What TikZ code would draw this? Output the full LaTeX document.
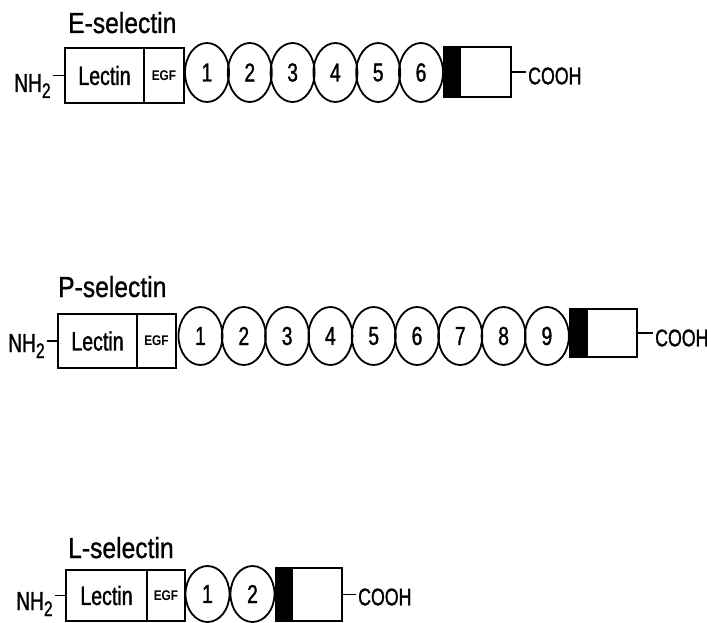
\documentclass[tikz,border=0pt]{standalone}
\usepackage{fontspec}
\setmainfont{Liberation Sans}
\newfontfamily\condfont[FakeStretch=0.74,FakeBold=1.2]{Liberation Sans}
\newfontfamily\titlefont[FakeStretch=0.85,FakeBold=1.0]{Liberation Sans}
\newfontfamily\egffont[FakeStretch=0.85]{Liberation Sans Bold}
\newcommand{\nhtwo}{NH\raisebox{-6pt}{\fontsize{21}{21}\selectfont 2}}
\usetikzlibrary{shapes.geometric}
\tikzset{
  ln/.style={line width=1.8pt},
  lectinbox/.style={draw, line width=1.8pt, inner sep=0pt, font=\condfont\fontsize{26.5}{30}\selectfont},
  egfbox/.style={draw, line width=2.5pt, inner sep=0pt, font=\egffont\fontsize{14}{16}\selectfont},
  crdomain/.style={draw, ellipse, line width=1.8pt, inner sep=0pt, minimum width=44pt, font=\condfont\fontsize{26}{30}\selectfont},
  tmbox/.style={draw, fill=black, line width=1.8pt, inner sep=0pt},
  cytobox/.style={draw, fill=white, line width=1.8pt, inner sep=0pt},
  endlabel/.style={inner sep=0pt, font=\condfont\fontsize{24}{28}\selectfont},
  nhlabel/.style={inner sep=0pt, anchor=base west, font=\condfont\fontsize{26}{30}\selectfont},
  titlelabel/.style={inner sep=0pt, anchor=base west, font=\titlefont\fontsize{29}{34}\selectfont},
}
\begin{document}
\begin{tikzpicture}[x=1pt,y=-1pt]
\fill[white] (0,0) rectangle (707,623);
\useasboundingbox (0,0) rectangle (707,623);

% ---------------- E-selectin ----------------
\node[titlelabel] (tE) at (68,33) {E-selectin};
\node[lectinbox, minimum width=79pt, minimum height=55pt] (lecE) at (104.5,75.5) {Lectin};
\node[egfbox, minimum width=40pt, minimum height=55pt] (egfE) at (164,75.5) {EGF};
\foreach \i in {1,...,6}
  \node[crdomain, minimum height=59pt] (crE\i) at ({207+42.8*(\i-1)},72.5) {\i};
\node[tmbox, minimum width=16pt, minimum height=50pt] (tmE) at (452,72) {};
\node[cytobox, minimum width=51pt, minimum height=50pt] (cyE) at (485.5,72) {};
\node[endlabel, anchor=west] (coE) at (528,76) {COOH};
\draw[ln, shorten >=2pt] (cyE.east) -- (cyE.east -| coE.west);
\node[nhlabel] (nhE) at (14,92) {\nhtwo};
\draw[ln, shorten <=2pt] (nhE.east |- lecE.west) -- (lecE.west);

% ---------------- P-selectin ----------------
\node[titlelabel] (tP) at (58,297) {P-selectin};
\node[lectinbox, minimum width=79pt, minimum height=54pt] (lecP) at (97.5,341) {Lectin};
\node[egfbox, minimum width=39pt, minimum height=54pt] (egfP) at (156.5,341) {EGF};
\foreach \i in {1,...,9}
  \node[crdomain, minimum height=58pt] (crP\i) at ({200.5+43.3*(\i-1)},336) {\i};
\node[tmbox, minimum width=17pt, minimum height=48pt] (tmP) at (578.5,333) {};
\node[cytobox, minimum width=50pt, minimum height=48pt] (cyP) at (612,333) {};
\node[endlabel, anchor=west] (coP) at (655,338) {COOH};
\draw[ln, shorten >=2pt] (cyP.east) -- (cyP.east -| coP.west);
\node[nhlabel] (nhP) at (8,352) {\nhtwo};
\draw[ln, shorten <=2pt] (nhP.east |- lecP.west) -- (lecP.west);

% ---------------- L-selectin ----------------
\node[titlelabel] (tL) at (68,558) {L-selectin};
\node[lectinbox, minimum width=81pt, minimum height=51pt] (lecL) at (106.5,595.5) {Lectin};
\node[egfbox, minimum width=38pt, minimum height=51pt] (egfL) at (166,595.5) {EGF};
\foreach \i in {1,2}
  \node[crdomain, minimum height=56pt] (crL\i) at ({207.5+45*(\i-1)},594) {\i};
\node[tmbox, minimum width=16pt, minimum height=53pt] (tmL) at (284,594.5) {};
\node[cytobox, minimum width=50pt, minimum height=53pt] (cyL) at (317,594.5) {};
\node[endlabel, anchor=west] (coL) at (358,597) {COOH};
\draw[ln, shorten >=2pt] (cyL.east) -- (cyL.east -| coL.west);
\node[nhlabel] (nhL) at (16,610) {\nhtwo};
\draw[ln, shorten <=2pt] (nhL.east |- lecL.west) -- (lecL.west);
\end{tikzpicture}
\end{document}
